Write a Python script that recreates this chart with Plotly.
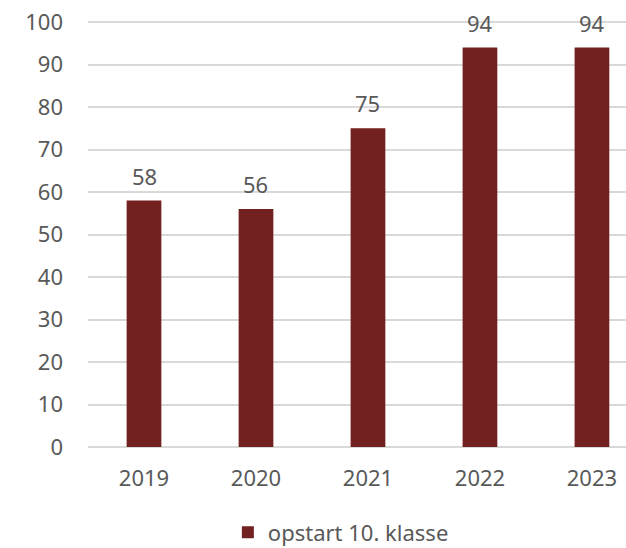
import plotly.graph_objects as go

years = ["2019", "2020", "2021", "2022", "2023"]
values = [58, 56, 75, 94, 94]
series_name = "opstart 10. klasse"

fig = go.Figure()
fig.add_trace(go.Bar(
    x=years, y=values, name=series_name,
    marker=dict(color="#722020", line=dict(width=0)),
    width=0.31,
    showlegend=True,
))

for i, v in enumerate(values):
    fig.add_annotation(x=i, y=v, text=str(v), showarrow=False,
                       yanchor="middle", yshift=25,
                       font=dict(size=22, color="#595959"))

fig.update_layout(
    width=626, height=548,
    margin=dict(l=88, r=0, t=20, b=101, autoexpand=False),
    plot_bgcolor="white", paper_bgcolor="white",
    font=dict(family="Noto Sans", color="#595959", size=22),
    xaxis=dict(type="category", range=[-0.5, 4.304], showgrid=False, showline=False, automargin=False,
               tickfont=dict(size=22, color="#595959"), ticks="", ticklabelstandoff=16),
    yaxis=dict(range=[0, 100.47], tickvals=list(range(0, 101, 10)), showgrid=True,
               gridcolor="#d9d9d9", gridwidth=1.5, ticklabeloverflow="allow",
               zeroline=True, zerolinecolor="#d9d9d9", zerolinewidth=1.5, automargin=False,
               tickfont=dict(size=22, color="#595959"), ticks="", ticklabelstandoff=24),
    legend=dict(orientation="h", x=0.47, xanchor="center", y=-0.2, yanchor="middle",
                font=dict(size=22, color="#595959")),
)

fig.write_html("out.html", config={"displayModeBar": False},
               post_script="document.body.style.margin='0';document.body.style.overflow='hidden';")
